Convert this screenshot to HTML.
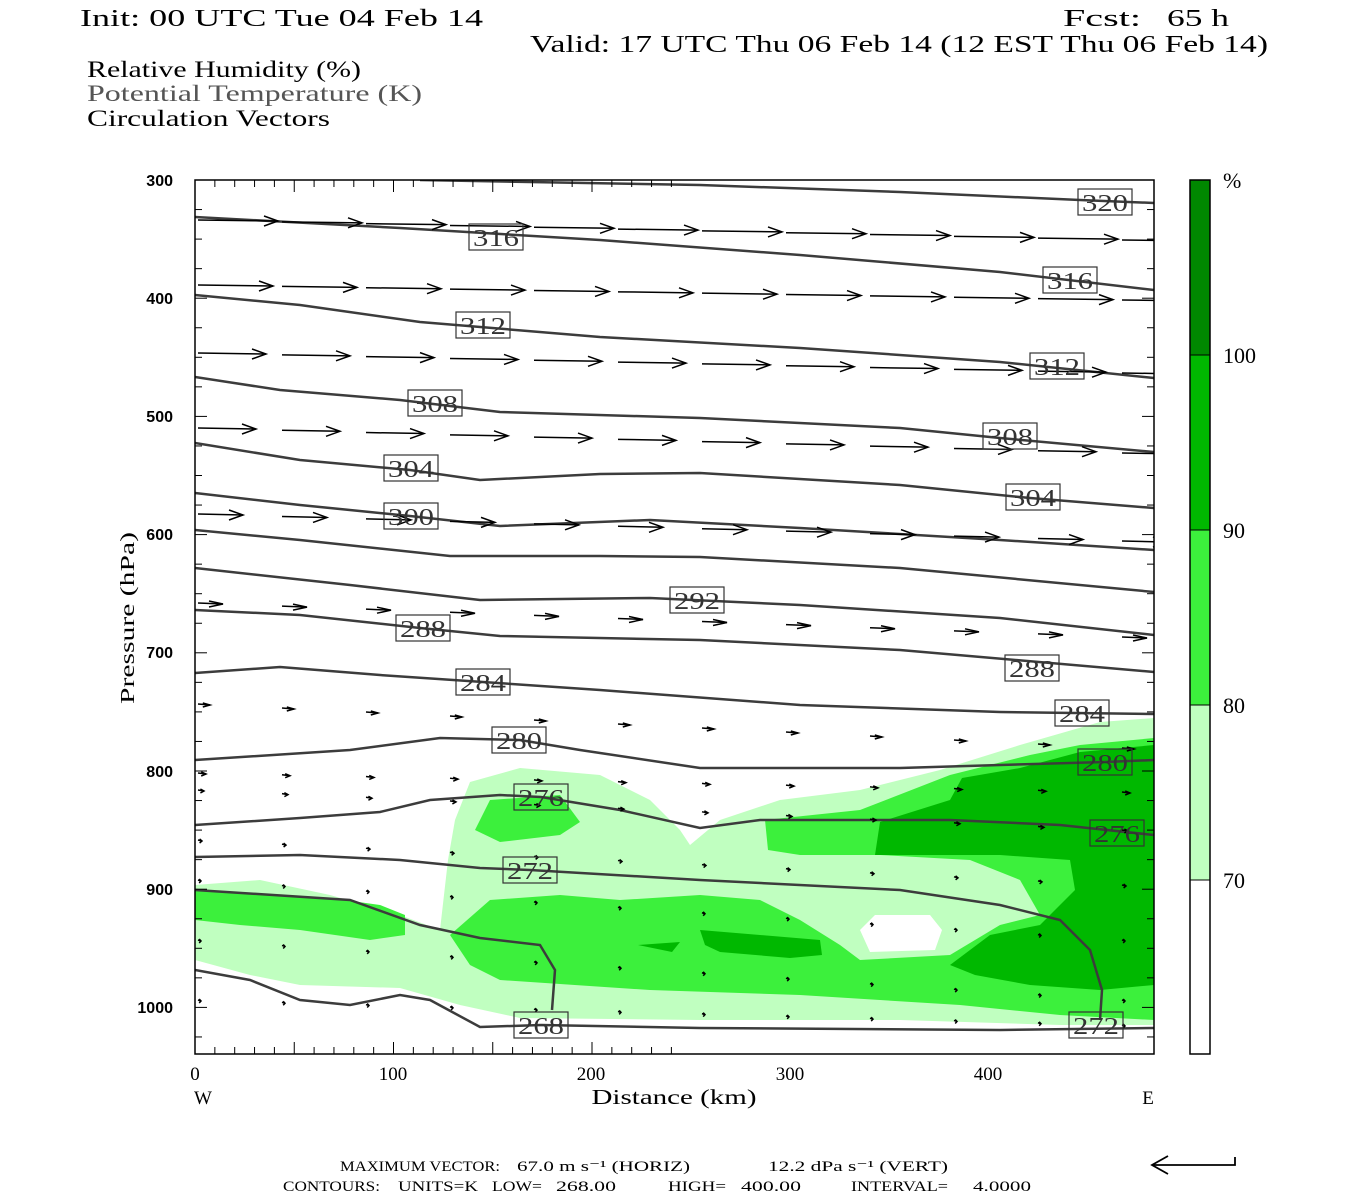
<!DOCTYPE html>
<html><head><meta charset="utf-8"><style>
html,body{margin:0;padding:0;background:#fff;}
svg{display:block;font-family:"Liberation Serif",serif;}
</style></head><body>
<svg id="s" width="1350" height="1200" viewBox="0 0 1350 1200" xmlns="http://www.w3.org/2000/svg">
<rect width="1350" height="1200" fill="#fff"/>
<text x="80" y="26" font-size="24" textLength="403" lengthAdjust="spacingAndGlyphs">Init: 00 UTC Tue 04 Feb 14</text>
<text x="1063" y="26" font-size="24" textLength="78" lengthAdjust="spacingAndGlyphs">Fcst:</text>
<text x="1167" y="26" font-size="24" textLength="62" lengthAdjust="spacingAndGlyphs">65 h</text>
<text x="530" y="52" font-size="24" textLength="738" lengthAdjust="spacingAndGlyphs">Valid: 17 UTC Thu 06 Feb 14 (12 EST Thu 06 Feb 14)</text>
<text x="87" y="77" font-size="23" textLength="274" lengthAdjust="spacingAndGlyphs">Relative Humidity (%)</text>
<text x="87" y="101" font-size="23" fill="#555" textLength="335" lengthAdjust="spacingAndGlyphs">Potential Temperature (K)</text>
<text x="87" y="126" font-size="23" textLength="243" lengthAdjust="spacingAndGlyphs">Circulation Vectors</text>

<clipPath id="c"><rect x="195" y="180" width="959" height="874"/></clipPath>
<g clip-path="url(#c)" id="plot">
<polygon fill="#c0ffc0" points="195,885 260,880 330,895 400,915 440,930 448,860 455,820 470,782 520,768 600,775 650,800 680,830 690,845 720,820 780,800 860,790 940,770 1020,745 1100,722 1154,718 1154,1025 1060,1025 900,1020 700,1020 520,1018 460,1005 400,988 300,985 250,975 195,960"/>
<polygon fill="#fff" points="860,930 875,915 930,915 942,930 935,950 870,952"/>
<polygon fill="#3cf03c" points="195,890 260,895 330,898 380,905 405,915 405,935 370,940 300,930 240,925 195,920"/>
<polygon fill="#3cf03c" points="450,935 490,900 560,895 620,900 700,895 760,900 800,920 840,945 860,960 950,955 1000,925 1040,915 1020,880 970,860 880,855 800,855 768,850 765,820 860,810 950,775 1030,755 1080,745 1154,738 1154,1020 1060,1015 960,1005 800,995 650,990 500,980 470,965"/>
<polygon fill="#3cf03c" points="475,830 490,800 560,795 580,822 560,835 500,842"/>
<polygon fill="#00b800" points="875,855 880,822 950,800 962,778 1020,768 1080,752 1154,745 1154,985 1100,990 1030,985 975,975 950,965 990,935 1040,925 1075,890 1070,860 1000,855"/>
<polygon fill="#00b800" points="700,930 760,935 820,940 822,955 790,958 720,952 705,945"/>
<polygon fill="#00b800" points="638,945 680,942 672,952"/>
<g id="ct" fill="none" stroke="#3c3c3c" stroke-width="2.5"></g>
<g id="vec" stroke="#000" stroke-width="1.5" fill="none"></g>
<g id="lab"></g>
</g>
<rect x="195" y="180" width="959" height="874" fill="none" stroke="#000" stroke-width="1.5"/>
<g id="ticks" stroke="#000" stroke-width="1"></g>
<g font-family="Liberation Sans,sans-serif" font-size="16" font-weight="bold" text-anchor="end">
<text x="173" y="186">300</text><text x="173" y="304">400</text><text x="173" y="422">500</text><text x="173" y="540">600</text><text x="173" y="658">700</text><text x="173" y="777">800</text><text x="173" y="895">900</text><text x="173" y="1013">1000</text>
</g>
<text transform="translate(134,618) rotate(-90)" font-size="20" text-anchor="middle" textLength="172" lengthAdjust="spacingAndGlyphs">Pressure (hPa)</text>
<g font-size="19" text-anchor="middle">
<text x="195" y="1080">0</text><text x="393" y="1080">100</text><text x="591" y="1080">200</text><text x="790" y="1080">300</text><text x="988" y="1080">400</text>
<text x="203" y="1104">W</text><text x="1148" y="1104">E</text>
</g>
<text x="674" y="1104" font-size="21" text-anchor="middle" textLength="165" lengthAdjust="spacingAndGlyphs">Distance (km)</text>
<rect x="1190" y="180" width="20" height="175" fill="#008800"/>
<rect x="1190" y="355" width="20" height="175" fill="#00b800"/>
<rect x="1190" y="530" width="20" height="175" fill="#3cf03c"/>
<rect x="1190" y="705" width="20" height="175" fill="#c0ffc0"/>
<rect x="1190" y="180" width="20" height="874" fill="none" stroke="#000" stroke-width="1.5"/>
<g stroke="#000"><line x1="1190" y1="355" x2="1210" y2="355"/><line x1="1190" y1="530" x2="1210" y2="530"/><line x1="1190" y1="705" x2="1210" y2="705"/><line x1="1190" y1="880" x2="1210" y2="880"/></g>
<g font-size="22"><text x="1223" y="188">%</text><text x="1223" y="363">100</text><text x="1223" y="538">90</text><text x="1223" y="713">80</text><text x="1223" y="888">70</text></g>
<g font-size="15">
<text x="340" y="1171" textLength="160" lengthAdjust="spacingAndGlyphs">MAXIMUM VECTOR:</text>
<text x="517" y="1171" textLength="173" lengthAdjust="spacingAndGlyphs">67.0 m s⁻¹ (HORIZ)</text>
<text x="768" y="1171" textLength="180" lengthAdjust="spacingAndGlyphs">12.2 dPa s⁻¹ (VERT)</text>
<text x="283" y="1191" textLength="97" lengthAdjust="spacingAndGlyphs">CONTOURS:</text>
<text x="398" y="1191" textLength="80" lengthAdjust="spacingAndGlyphs">UNITS=K</text>
<text x="492" y="1191" textLength="50" lengthAdjust="spacingAndGlyphs">LOW=</text>
<text x="556" y="1191" textLength="60" lengthAdjust="spacingAndGlyphs">268.00</text>
<text x="668" y="1191" textLength="58" lengthAdjust="spacingAndGlyphs">HIGH=</text>
<text x="741" y="1191" textLength="60" lengthAdjust="spacingAndGlyphs">400.00</text>
<text x="851" y="1191" textLength="97" lengthAdjust="spacingAndGlyphs">INTERVAL=</text>
<text x="973" y="1191" textLength="58" lengthAdjust="spacingAndGlyphs">4.0000</text>
</g>
<g stroke="#000" stroke-width="1.8" fill="none"><path d="M1152,1165 H1235 V1157"/><path d="M1168,1156 L1152,1165 L1168,1174"/></g>
<script>
var NS="http://www.w3.org/2000/svg";
function el(p,t,a){var e=document.createElementNS(NS,t);for(var k in a)e.setAttribute(k,a[k]);p.appendChild(e);return e;}
var ct=document.getElementById('ct');
var lines=[
"420,180 700,185 900,192 1080,200 1154,203",
"195,217 400,228 600,240 800,255 1000,272 1154,290",
"195,295 300,305 420,322 600,337 800,348 1000,362 1154,378",
"195,377 280,390 400,400 500,412 700,418 900,428 1000,438 1154,452",
"195,443 300,460 410,470 480,480 600,474 700,473 900,485 1030,498 1154,508",
"195,493 300,505 410,516 500,526 650,520 800,528 1000,540 1154,550",
"195,530 300,540 450,556 600,556 700,557 900,568 1154,592",
"195,568 350,585 480,600 650,598 800,605 1000,618 1154,635",
"195,610 300,615 420,628 500,636 700,640 900,650 1154,672",
"195,673 280,667 380,675 483,682 600,690 800,705 1000,712 1154,714",
"195,760 350,750 440,738 520,740 580,750 700,768 900,768 1000,765 1105,762 1154,760",
"195,825 300,818 380,812 430,800 500,795 541,797 620,810 700,828 760,820 950,820 1060,825 1154,835",
"195,857 300,855 400,860 480,868 530,870 700,880 900,890 1000,905 1060,920 1090,950 1102,990 1100,1020",
"195,890 350,900 420,925 480,938 540,945 555,970 552,1010",
"195,970 250,980 300,1000 350,1005 400,995 430,1000 480,1027 541,1025 700,1028 1000,1030 1154,1028"];
lines.forEach(function(p){el(ct,'polyline',{points:p});});
var lab=document.getElementById('lab');
[[320,1105,202],[316,496,237],[316,1070,280],[312,483,325],[312,1057,366],[308,435,403],[308,1010,436],[304,411,468],[304,1033,497],[300,411,516],[292,697,600],[288,423,628],[288,1032,668],[284,483,682],[284,1082,713],[280,519,740],[280,1105,762],[276,541,797],[276,1117,833],[272,530,870],[272,1096,1025],[268,541,1025]].forEach(function(l){
 el(lab,'rect',{x:l[1]-27,y:l[2]-13,width:54,height:26,fill:'none',stroke:'#333','stroke-width':1.2});
 var t=el(lab,'text',{x:l[1],y:l[2]+9,'font-size':24,'text-anchor':'middle',fill:'#333',textLength:46,lengthAdjust:'spacingAndGlyphs'});t.textContent=l[0];
});
var vec=document.getElementById('vec');
var rows=[[220,240,80],[285,300,75],[353,373,68],[428,453,58],[514,541,45],[603,637,25],[704,748,12],[773,792,8],[790,830,6],[840,885,4],[880,940,3],[940,1000,3],[1000,1025,3]];
rows.forEach(function(r){
 for(var i=0;i<12;i++){var x=198+i*84;if(x>1150)break;var y=r[0]+(r[1]-r[0])*i/11;var L=r[2];
  var hl=Math.min(14,L*0.6), hw=Math.min(5,Math.max(2,L*0.12));
  el(vec,'line',{x1:x,y1:y,x2:x+L,y2:y+1});
  el(vec,'path',{d:'M'+(x+L-hl)+','+(y+1-hw)+' L'+(x+L)+','+(y+1)+' L'+(x+L-hl)+','+(y+1+hw)});
 }
});
var tk=document.getElementById('ticks');
for(var k=0;k<=24;k++){var x=195+k*19.85;var h=(k%5==0)?12:7;
 el(tk,'line',{x1:x,y1:180,x2:x,y2:180+h});el(tk,'line',{x1:x,y1:1054,x2:x,y2:1054-h});}
for(var p=300;p<=1040;p+=25){var y=180+(p-300)*1.182;var w=(p%100==0)?12:7;
 el(tk,'line',{x1:195,y1:y,x2:195+w,y2:y});el(tk,'line',{x1:1154,y1:y,x2:1154-w,y2:y});}
</script>
</svg>
</body></html>
